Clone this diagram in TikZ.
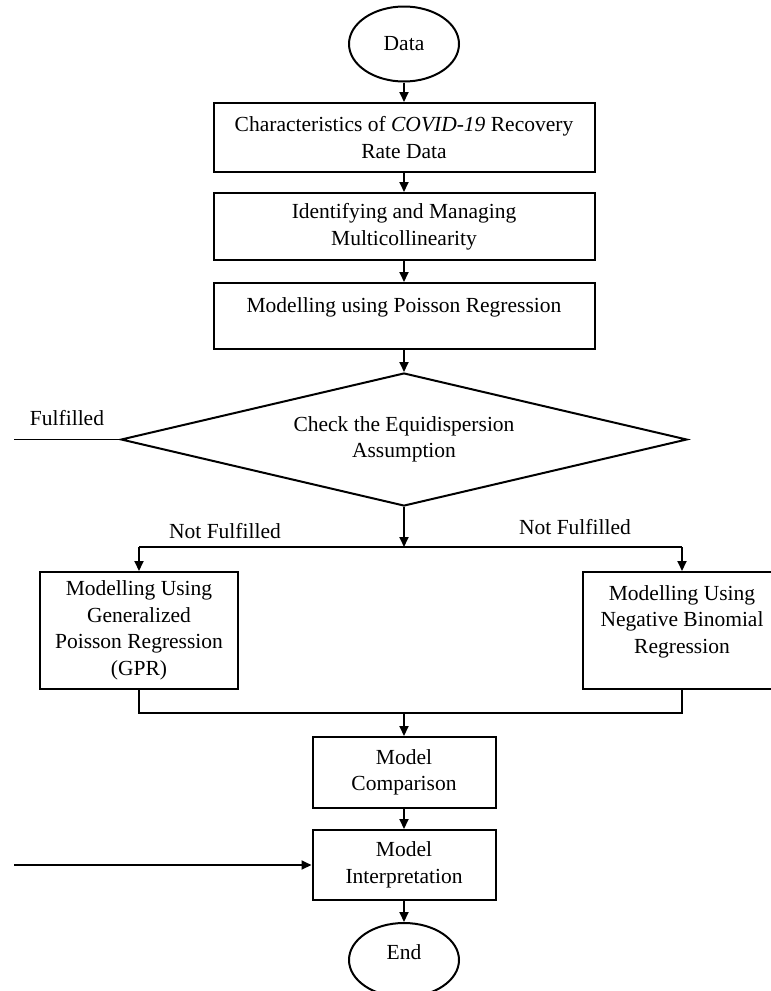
\documentclass[tikz,border=0pt]{standalone}
\usepackage{fontspec}
\setmainfont{Liberation Serif}
\usetikzlibrary{arrows.meta,shapes.geometric}
\begin{document}
\begin{tikzpicture}[x=1pt,y=-1pt,
  every node/.style={font=\fontsize{21.5}{26.5}\selectfont, inner sep=0pt, align=center},
  boxnode/.style={draw, line width=2pt, rectangle},
  ovalnode/.style={draw, line width=2pt, ellipse},
  decnode/.style={draw, line width=2pt, diamond, shape aspect=4.25},
  conn/.style={line width=1.8pt},
  arr/.style={conn, -{Triangle[length=10pt,width=9pt]}}]
\useasboundingbox (0,0) rectangle (771,991);
\fill[white] (0,0) rectangle (771,991);
% main column
\node[ovalnode, minimum width=110pt, minimum height=75pt] (data) at (404,44) {Data};
\node[boxnode, minimum width=381pt, minimum height=69pt] (b1) at (404,137.5) {Characteristics of \textit{COVID-19} Recovery\\Rate Data};
\node[boxnode, minimum width=381pt, minimum height=67pt] (b2) at (404,226.5) {Identifying and Managing\\Multicollinearity};
\node[boxnode, minimum width=381pt, minimum height=66pt,
      label={[name=b3t, yshift=9pt]center:Modelling using Poisson Regression}] (b3) at (404,316) {};
\node[decnode, minimum width=566pt, minimum height=133pt] (dia) at (404,439.5) {Check the Equidispersion\\Assumption};
% fulfilled branch
\coordinate (fl) at (14,439.5);
\node (ful) at (67,418) {Fulfilled};
% split
\coordinate (jm) at (404,547);
\coordinate (jl) at (139,547);
\coordinate (jr) at (682,547);
\node (nfl) at (225,531) {Not Fulfilled};
\node (nfr) at (575,527) {Not Fulfilled};
\node[boxnode, minimum width=198pt, minimum height=117pt] (gpr) at (139,630.5) {Modelling Using\\Generalized\\Poisson Regression\\(GPR)};
\node[boxnode, minimum width=198pt, minimum height=117pt,
      label={[name=nbt, yshift=9pt]center:Modelling Using\\Negative Binomial\\Regression}] (nb) at (682,630.5) {};
% merge
\coordinate (kl) at (139,713);
\coordinate (km) at (404,713);
\coordinate (kr) at (682,713);
\node[boxnode, minimum width=183pt, minimum height=71pt] (cmp) at (404,772.5) {Model\\Comparison};
\node[boxnode, minimum width=183pt, minimum height=70pt] (int) at (404,865) {Model\\Interpretation};
\coordinate (il) at (14,865);
\node[ovalnode, minimum width=110pt, minimum height=74pt,
      label={[name=endt, yshift=8pt]center:End}] (end) at (404,960) {};
% connectors
\draw[arr] (data) -- (b1);
\draw[arr] (b1) -- (b2);
\draw[arr] (b2) -- (b3);
\draw[arr] (b3) -- (dia.north);
\draw[conn] (dia.west) -- (fl);
\draw[arr] (dia.south) -- (jm);
\draw[conn] (jl) -- (jr);
\draw[arr] (jl) -- (gpr.north);
\draw[arr] (jr) -- (nb.north);
\draw[conn] (gpr.south) -- (kl) -- (kr) -- (nb.south);
\draw[arr] (km) -- (cmp.north);
\draw[arr] (cmp) -- (int);
\draw[arr] (il) -- (int.west);
\draw[arr] (int) -- (end);
\end{tikzpicture}
\end{document}
